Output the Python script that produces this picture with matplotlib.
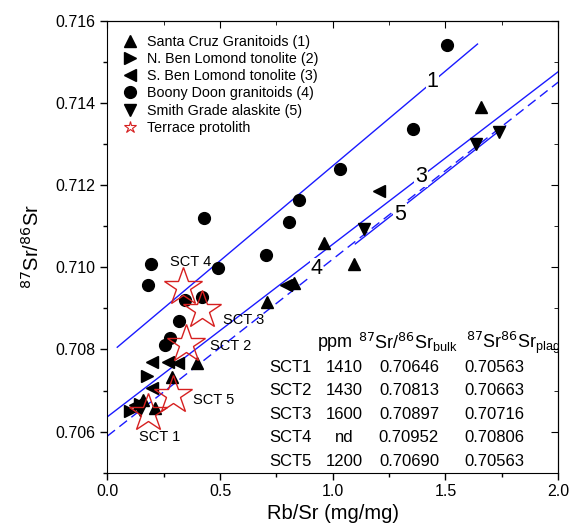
import matplotlib.pyplot as plt
from matplotlib.ticker import MultipleLocator

# Santa Cruz Granitoids (1)
sc_x = [1.657, 0.960, 1.096, 0.830, 0.708, 0.396, 0.285, 0.211, 0.158]
sc_y = [0.71389, 0.71058, 0.71007, 0.70961, 0.70915, 0.70766, 0.70732, 0.70657, 0.70677]

# N. Ben Lomond tonolite (2)
nbl_x = [0.174, 0.145, 0.100]
nbl_y = [0.70736, 0.70668, 0.70649]

# S. Ben Lomond tonolite (3)
sbl_x = [0.196, 0.270, 0.314, 0.196, 0.123, 0.792, 1.204]
sbl_y = [0.70770, 0.70770, 0.70767, 0.70705, 0.70665, 0.70956, 0.71185]

# Boony Doon granitoids (4)
bd_x = [1.506, 1.357, 1.030, 0.850, 0.808, 0.428, 0.702, 0.491, 0.192, 0.179,
        0.344, 0.420, 0.317, 0.279, 0.255]
bd_y = [0.71541, 0.71336, 0.71239, 0.71164, 0.71111, 0.71119, 0.71030, 0.70999,
        0.71008, 0.70957, 0.70920, 0.70928, 0.70869, 0.70829, 0.70811]

# Smith Grade alaskite (5)
sg_x = [1.738, 1.635, 1.140, 0.145]
sg_y = [0.71330, 0.71299, 0.71092, 0.70653]

# Terrace protolith
sct_names = ['SCT 1', 'SCT 2', 'SCT 3', 'SCT 4', 'SCT 5']
sct_x = [0.181, 0.348, 0.418, 0.336, 0.292]
sct_y = [0.70646, 0.70813, 0.70897, 0.70952, 0.70690]

# regression lines: (x start, x end, intercept, slope)
line_1 = (0.044, 1.642, 0.70785, 0.004618)
line_3 = (0.0, 2.0, 0.70636, 0.00420)
line_4 = (0.0, 2.0, 0.70589, 0.004308)
line_5 = (1.10, 1.767, 0.70583, 0.004308)

# table
tab_rows = ['SCT1', 'SCT2', 'SCT3', 'SCT4', 'SCT5']
tab_ppm = ['1410', '1430', '1600', 'nd', '1200']
tab_bulk = ['0.70646', '0.70813', '0.70897', '0.70952', '0.70690']
tab_plag = ['0.70563', '0.70663', '0.70716', '0.70806', '0.70563']

plt.rcParams['font.family'] = ['Liberation Sans', 'DejaVu Sans']

fig = plt.figure(figsize=(5.74, 5.32), dpi=100)
ax = fig.add_axes([0.187, 0.1115, 0.7855, 0.8495])

blue = '#1a1aff'


def draw_line(params, style):
    x0, x1, b, m = params
    ax.plot([x0, x1], [b + m * x0, b + m * x1], color=blue, lw=1.0, ls=style, zorder=1)


draw_line(line_1, '-')
draw_line(line_3, '-')
draw_line(line_4, (0, (7, 4)))
draw_line(line_5, '-')

ms = 8.5
ax.plot(sc_x, sc_y, '^', color='black', ms=ms, ls='none', label='Santa Cruz Granitoids (1)', zorder=3)
ax.plot(nbl_x, nbl_y, '>', color='black', ms=ms, ls='none', label='N. Ben Lomond tonolite (2)', zorder=3)
ax.plot(sbl_x, sbl_y, '<', color='black', ms=ms, ls='none', label='S. Ben Lomond tonolite (3)', zorder=3)
ax.plot(bd_x, bd_y, 'o', color='black', ms=ms, ls='none', label='Boony Doon granitoids (4)', zorder=3)
ax.plot(sg_x, sg_y, 'v', color='black', ms=ms, ls='none', label='Smith Grade alaskite (5)', zorder=3)
ax.plot(sct_x, sct_y, '*', mfc='none', mec='#d62020', mew=1.0, ms=29, ls='none', zorder=4)
# small star only for the legend
ax.plot([], [], '*', mfc='none', mec='#d62020', mew=0.8, ms=9, ls='none', label='Terrace protolith')

# line labels
for txt, xx, yy in [('1', 1.442, 0.71451), ('3', 1.391, 0.71222), ('4', 0.929, 0.70996), ('5', 1.298, 0.71129)]:
    ax.text(xx, yy, txt, fontsize=15.5, ha='center', va='center', zorder=2,
            bbox=dict(facecolor='white', edgecolor='none', pad=0.5))

# star labels
sct_label_pos = [(0.23, 0.70587), (0.545, 0.70808), (0.605, 0.70871), (0.368, 0.71014), (0.472, 0.70677)]
for name, (lx, ly) in zip(sct_names, sct_label_pos):
    ax.text(lx, ly, name, fontsize=10.5, ha='center', va='center', zorder=5)

# table in the lower right
head_y = 0.70816
ax.text(1.012, head_y, 'ppm', fontsize=13, ha='center', va='center')
ax.text(1.335, head_y, r'$^{87}$Sr/$^{86}$Sr$_\mathregular{bulk}$', fontsize=13, ha='center', va='center')
ax.text(1.803, head_y, r'$^{87}$Sr$^{86}$Sr$_\mathregular{plag}$', fontsize=13, ha='center', va='center',
        clip_on=True)
row_y = [0.70757, 0.70700, 0.70642, 0.70585, 0.70527]
for yy, r, p, b, pl in zip(row_y, tab_rows, tab_ppm, tab_bulk, tab_plag):
    ax.text(0.812, yy, r, fontsize=12, ha='center', va='center')
    ax.text(1.052, yy, p, fontsize=12, ha='center', va='center')
    ax.text(1.338, yy, b, fontsize=12, ha='center', va='center')
    ax.text(1.715, yy, pl, fontsize=12, ha='center', va='center')

ax.set_xlim(0.0, 2.0)
ax.set_ylim(0.705, 0.716)
ax.xaxis.set_major_locator(MultipleLocator(0.5))
ax.xaxis.set_minor_locator(MultipleLocator(0.25))
ax.yaxis.set_major_locator(MultipleLocator(0.002))
ax.yaxis.set_minor_locator(MultipleLocator(0.001))
ax.yaxis.set_major_formatter(plt.FormatStrFormatter('%.3f'))
ax.xaxis.set_major_formatter(plt.FormatStrFormatter('%.1f'))
ax.tick_params(which='both', direction='out', labelsize=11.5, width=1)
ax.tick_params(which='major', length=5)
ax.tick_params(which='minor', length=3)

# inward ticks on top and right, no labels
axt = ax.secondary_xaxis('top')
axt.xaxis.set_major_locator(MultipleLocator(0.5))
axt.xaxis.set_minor_locator(MultipleLocator(0.25))
axt.tick_params(which='both', direction='in', labeltop=False)
axt.tick_params(which='major', length=5)
axt.tick_params(which='minor', length=3)
axr = ax.secondary_yaxis('right')
axr.yaxis.set_major_locator(MultipleLocator(0.002))
axr.yaxis.set_minor_locator(MultipleLocator(0.001))
axr.tick_params(which='both', direction='in', labelright=False)
axr.tick_params(which='major', length=5)
axr.tick_params(which='minor', length=3)

ax.set_xlabel('Rb/Sr (mg/mg)', fontsize=14.5, labelpad=3)
ax.set_ylabel(r'$^{87}$Sr/$^{86}$Sr', fontsize=14.5, labelpad=9)

ax.legend(loc='upper left', frameon=False, fontsize=10.3, handletextpad=0.6, labelspacing=0.22,
          borderaxespad=0.6, handlelength=1.2, markerscale=1.0)

fig.savefig('out.png', dpi=100)
